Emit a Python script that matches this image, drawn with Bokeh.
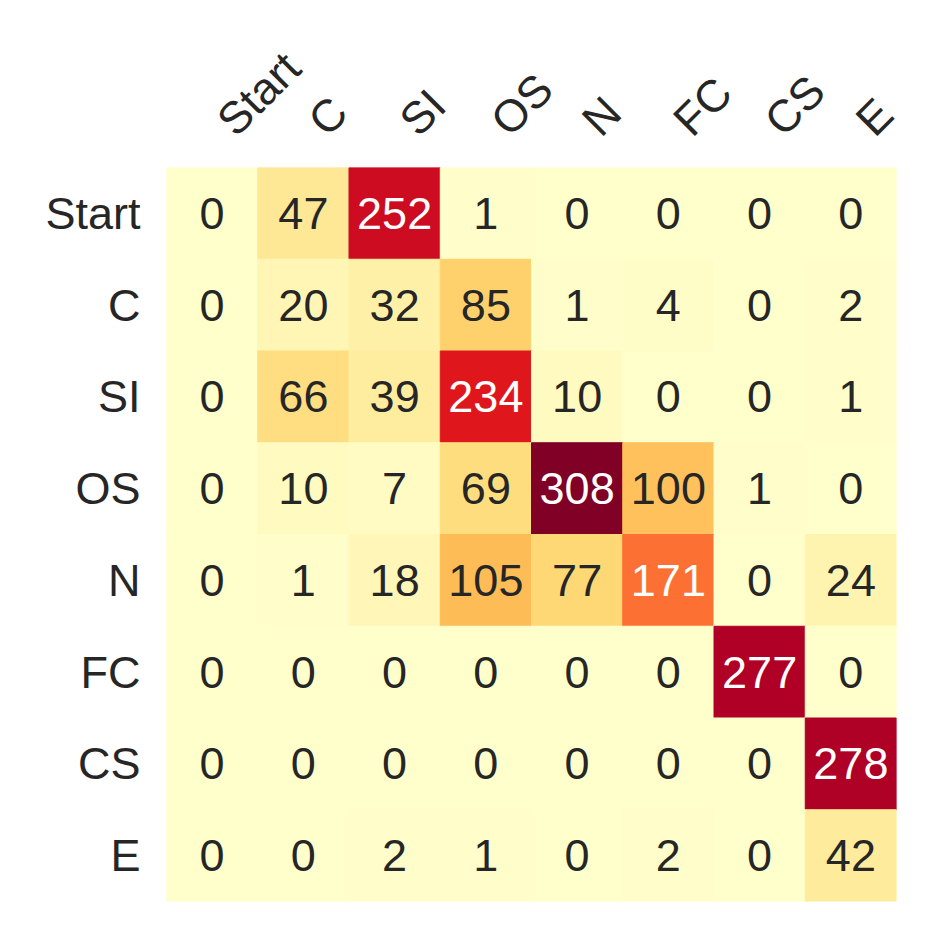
import math
from bokeh.plotting import figure
from bokeh.models import ColumnDataSource, Range1d, LinearAxis, FixedTicker
from bokeh.palettes import YlOrRd9, interp_palette
from bokeh.core.properties import value
from bokeh.embed import file_html
from bokeh.resources import INLINE

# ---- data ----
states = ["Start", "C", "SI", "OS", "N", "FC", "CS", "E"]
row_start = [0, 47, 252, 1, 0, 0, 0, 0]
row_c = [0, 20, 32, 85, 1, 4, 0, 2]
row_si = [0, 66, 39, 234, 10, 0, 0, 1]
row_os = [0, 10, 7, 69, 308, 100, 1, 0]
row_n = [0, 1, 18, 105, 77, 171, 0, 24]
row_fc = [0, 0, 0, 0, 0, 0, 277, 0]
row_cs = [0, 0, 0, 0, 0, 0, 0, 278]
row_e = [0, 0, 2, 1, 0, 2, 0, 42]
rows = [row_start, row_c, row_si, row_os, row_n, row_fc, row_cs, row_e]

# ---- colours ----
palette = interp_palette(tuple(reversed(YlOrRd9)), 256)
vmin, vmax = 0, max(max(r) for r in rows)


def color_for(v):
    idx = int(round((v - vmin) / (vmax - vmin) * 255))
    return palette[max(0, min(255, idx))]


def lum(hexc):
    c = [int(hexc[i:i + 2], 16) / 255 for i in (1, 3, 5)]
    c = [x / 12.92 if x <= 0.03928 else ((x + 0.055) / 1.055) ** 2.4 for x in c]
    return 0.2126 * c[0] + 0.7152 * c[1] + 0.0722 * c[2]


n = len(states)
xs, ys, vals, labels, fills, tcols = [], [], [], [], [], []
for rname, r in zip(states, rows):
    for j, v in enumerate(r):
        xs.append(j + 0.5)          # column index centre
        ys.append(rname)
        vals.append(v)
        labels.append(str(v))
        col = color_for(v)
        fills.append(col)
        tcols.append("#262626" if lum(col) > 0.408 else "#ffffff")

src = ColumnDataSource(dict(x=xs, y=ys, v=vals, label=labels, fill=fills, tcol=tcols))

FONT = "Liberation Sans"
FSIZE = "45px"
label_shift = 0.142  # rotated labels start slightly right of column centre

p = figure(width=930, height=930, x_range=Range1d(0, n), y_range=list(reversed(states)),
           x_axis_location=None,
           output_backend="svg", toolbar_location=None,
           min_border_left=166, min_border_right=34, min_border_top=167,
           min_border_bottom=29)

p.rect(x="x", y="y", width=1, height=1, source=src, fill_color="fill",
       line_color="fill", line_width=1)
p.text(x="x", y="y", text="label", source=src, text_color="tcol",
       text_align="center", text_baseline="middle",
       text_font=value(FONT), text_font_size=FSIZE)

# rotated column labels on an above axis
p.extra_x_ranges = {"lab": Range1d(start=-label_shift, end=n - label_shift)}
ticks = [i + 0.5 for i in range(n)]
top_axis = LinearAxis(x_range_name="lab", ticker=FixedTicker(ticks=ticks, minor_ticks=[]),
                      major_label_overrides={t: s for t, s in zip(ticks, states)})
p.add_layout(top_axis, "above")

p.outline_line_color = None
p.xgrid.grid_line_color = None
p.ygrid.grid_line_color = None
p.background_fill_color = "white"
p.border_fill_color = "white"

for ax in (top_axis, p.yaxis[0]):
    ax.axis_line_color = None
    ax.major_tick_line_color = None
    ax.minor_tick_line_color = None
    ax.major_tick_out = 0
    ax.major_tick_in = 0
    ax.minor_tick_out = 0
    ax.minor_tick_in = 0
    ax.major_label_text_font = FONT
    ax.major_label_text_font_size = FSIZE
    ax.major_label_text_color = "#262626"

p.yaxis[0].major_label_standoff = 26
top_axis.major_label_orientation = math.pi / 4
top_axis.major_label_standoff = 40

open("out.html", "w").write(file_html(p, INLINE))
